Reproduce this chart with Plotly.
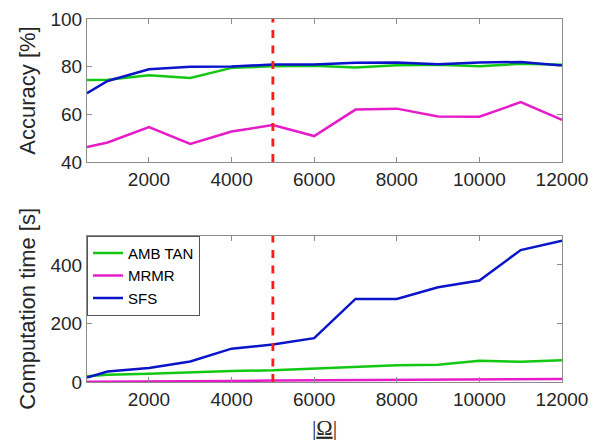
import plotly.graph_objects as go
from plotly.subplots import make_subplots

omega = [500, 1000, 2000, 3000, 4000, 5000, 6000, 7000, 8000, 9000, 10000, 11000, 12000]

acc_amb = [74.4, 74.5, 76.4, 75.3, 79.5, 80.2, 80.4, 79.7, 80.6, 80.8, 80.2, 81.2, 80.8]
acc_mrmr = [46.3, 48.2, 54.7, 47.6, 52.8, 55.5, 50.9, 62.0, 62.4, 59.1, 59.0, 65.1, 57.7]
acc_sfs = [68.9, 74.0, 78.9, 80.0, 80.1, 80.9, 80.9, 81.6, 81.7, 81.0, 81.7, 82.0, 80.5]

time_amb = [20, 25, 28, 33, 37.5, 40, 45, 51, 57, 59, 73, 69, 74]
time_mrmr = [1, 1, 2, 2, 3, 5, 6, 6, 7, 8, 9, 9, 10]
time_sfs = [15, 36, 48, 70, 114, 128, 150, 284, 284, 324, 347, 451, 483]

x_ticks = [2000, 4000, 6000, 8000, 10000, 12000]
x_ticklabels = ["2000", "4000", "6000", "8000", "10000", "12000"]
acc_ticks = [40, 60, 80, 100]
time_ticks = [0, 200, 400]

threshold = 5000
names = ["AMB TAN", "MRMR", "SFS"]
colors = ["#12c812", "#e61cc8", "#0a14c8"]

fig = make_subplots(rows=2, cols=1, vertical_spacing=0.2)

for i, (a, t) in enumerate(zip([acc_amb, acc_mrmr, acc_sfs], [time_amb, time_mrmr, time_sfs])):
    fig.add_trace(go.Scatter(x=omega, y=a, mode="lines", name=names[i],
                             line=dict(color=colors[i], width=2.5), showlegend=False), row=1, col=1)
    fig.add_trace(go.Scatter(x=omega, y=t, mode="lines", name=names[i],
                             line=dict(color=colors[i], width=2.5), showlegend=True), row=2, col=1)

# vertical threshold lines
dash_style = dict(color="#ff1a1a", width=2.8, dash="8px,7.5px")
fig.add_trace(go.Scatter(x=[threshold, threshold], y=[40, 100], mode="lines",
                         line=dash_style, showlegend=False), row=1, col=1)
fig.add_trace(go.Scatter(x=[threshold, threshold], y=[0, 500], mode="lines",
                         line=dash_style, showlegend=False), row=2, col=1)

tickfont = dict(family="Liberation Sans, Arial, sans-serif", size=19, color="#262626")
axcommon = dict(showline=True, linecolor="#8c8c8c", linewidth=1, mirror="ticks",
                ticks="inside", ticklen=5, tickcolor="#8c8c8c", showgrid=False,
                zeroline=False, tickfont=tickfont, automargin=False,
                ticklabeloverflow="allow")

fig.update_xaxes(range=[500, 12000], tickvals=x_ticks, ticktext=x_ticklabels, **axcommon)
fig.update_yaxes(**axcommon)

fig.update_yaxes(range=[40, 100], tickvals=acc_ticks, row=1, col=1,
                 title=dict(text="Accuracy [%]", font=dict(family="Liberation Sans, Arial, sans-serif",
                                                           size=22, color="#262626"), standoff=8))
fig.update_yaxes(range=[0, 500], tickvals=time_ticks, row=2, col=1,
                 title=dict(text="Computation time [s]", font=dict(family="Liberation Sans, Arial, sans-serif",
                                                                   size=22, color="#262626"), standoff=8))
fig.update_xaxes(row=2, col=1,
                 title=dict(text="|<u>Ω</u>|", font=dict(family="Liberation Serif, Times New Roman, serif",
                                                        size=22, color="#262626"), standoff=10))

# the page body adds an 8px offset, so the figure is drawn 8px smaller
fig.update_layout(
    width=595, height=437,
    margin=dict(l=79, r=41, t=11, b=63, autoexpand=False),
    plot_bgcolor="white", paper_bgcolor="white",
    showlegend=True,
    legend=dict(x=0, y=0.403, xref="paper", yref="paper", xanchor="left", yanchor="top",
                bordercolor="#555555", borderwidth=1, bgcolor="white",
                font=dict(family="Liberation Sans, Arial, sans-serif", size=15, color="black"),
                tracegroupgap=0, itemwidth=30),
    yaxis=dict(domain=[0.606, 1.0]), yaxis2=dict(domain=[0.0, 0.403]),
)

fig.write_html("out.html")
